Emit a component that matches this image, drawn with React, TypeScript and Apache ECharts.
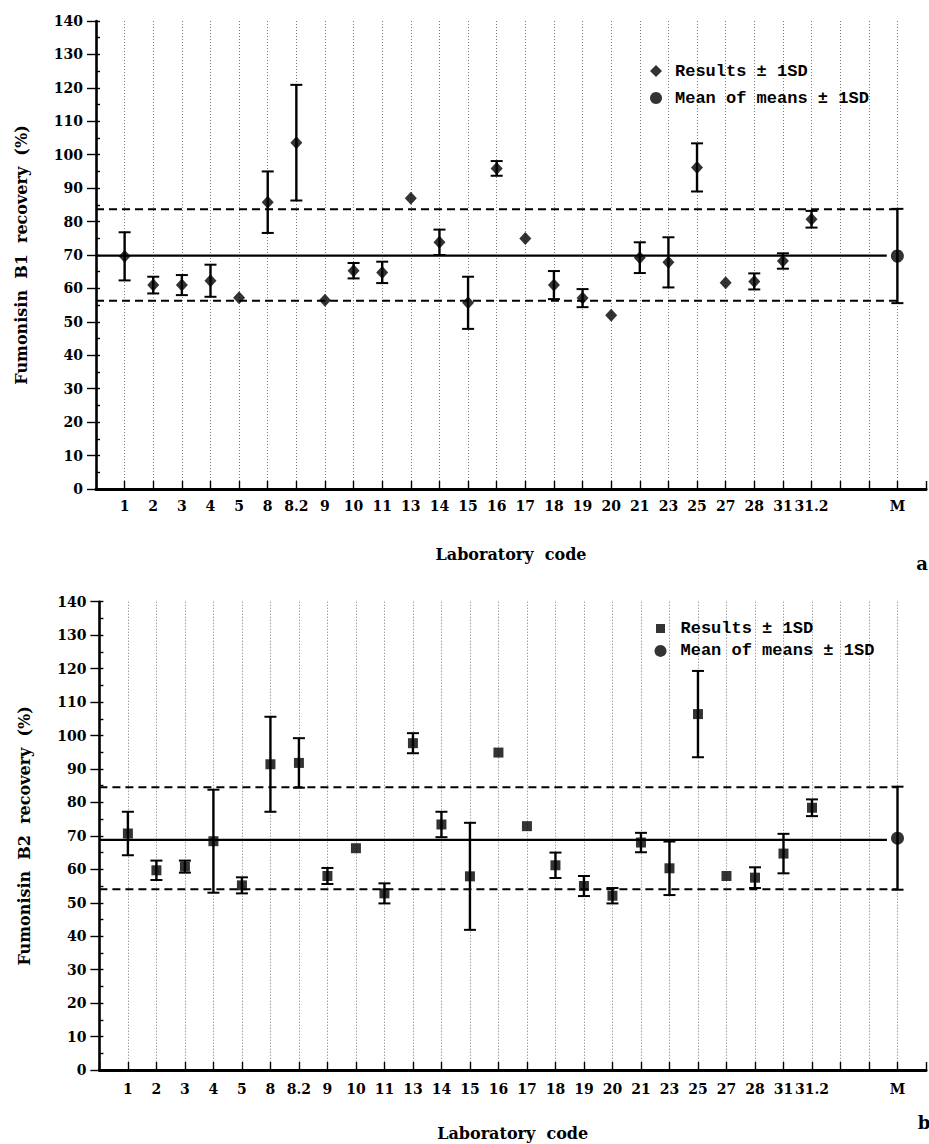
import React, { useEffect, useRef } from 'react';
import * as echarts from 'echarts';

// Laboratory codes (positions 1..28 on the x axis; two empty slots before M)
const labCodes = ['1', '2', '3', '4', '5', '8', '8.2', '9', '10', '11', '13', '14', '15', '16', '17', '18', '19', '20', '21', '23', '25', '27', '28', '31', '31.2', '', '', 'M'];
const yTicks = [0, 140, 10];

// Fumonisin B1 recovery (%) per laboratory, mean and SD
const b1Mean = [69.6, 61.0, 61.0, 62.3, 57.2, 85.8, 103.6, 56.5, 65.3, 64.8, 87.0, 73.8, 55.7, 95.9, 74.9, 61.0, 57.1, 52.0, 69.2, 67.8, 96.2, 61.7, 62.1, 68.2, 80.7];
const b1SD = [7.2, 2.5, 3.0, 4.8, 0, 9.2, 17.3, 0, 2.3, 3.2, 0, 3.8, 7.8, 2.2, 0, 4.2, 2.7, 0, 4.6, 7.5, 7.2, 0, 2.4, 2.3, 2.5];
const b1MeanOfMeans = [69.7];
const b1MeanOfMeansSD = [14.1];
const b1RefLines = [69.8, 83.7, 56.3]; // mean, +1SD, -1SD

// Fumonisin B2 recovery (%) per laboratory, mean and SD
const b2Mean = [70.7, 59.7, 60.8, 68.4, 55.2, 91.4, 91.8, 58.0, 66.3, 52.8, 97.7, 73.4, 57.9, 94.9, 72.9, 61.2, 55.0, 52.1, 68.0, 60.3, 106.4, 58.0, 57.5, 64.7, 78.4];
const b2SD = [6.5, 2.9, 1.8, 15.4, 2.4, 14.2, 7.4, 2.4, 0, 3.0, 3.0, 3.8, 16.0, 0, 0, 3.8, 3.0, 2.3, 2.9, 8.0, 12.9, 0, 3.1, 5.9, 2.5];
const b2MeanOfMeans = [69.3];
const b2MeanOfMeansSD = [15.4];
const b2RefLines = [68.8, 84.5, 54.0];

const RESULTS = 'Results ± 1SD';
const MEANS = 'Mean of means ± 1SD';
const SERIF = 'DejaVu Serif';
const MONO = 'Liberation Mono';
const M_POS = labCodes.length; // 28

function errorRows(means: number[], sds: number[], offset = 1) {
  const rows: number[][] = [];
  means.forEach((m, i) => {
    if (sds[i] > 0) rows.push([i + offset, m - sds[i], m + sds[i]]);
  });
  return rows;
}

const renderErrorBar = (params: any, api: any) => {
  const x = api.value(0);
  const lo = api.coord([x, api.value(1)]);
  const hi = api.coord([x, api.value(2)]);
  const hw = 6;
  const style = { stroke: '#000', lineWidth: 2.4 };
  return {
    type: 'group',
    children: [
      { type: 'line', shape: { x1: hi[0], y1: hi[1], x2: lo[0], y2: lo[1] }, style },
      { type: 'line', shape: { x1: hi[0] - hw, y1: hi[1], x2: hi[0] + hw, y2: hi[1] }, style: { stroke: '#000', lineWidth: 2 } },
      { type: 'line', shape: { x1: lo[0] - hw, y1: lo[1], x2: lo[0] + hw, y2: lo[1] }, style: { stroke: '#000', lineWidth: 2 } },
    ],
  };
};

function axesFor(gi: number, xLabelMargin: number, nameGapX: number, yName: string) {
  const xBottom = {
    type: 'value', gridIndex: gi, min: 0, max: labCodes.length + 1, interval: 1, position: 'bottom',
    name: 'Laboratory  code', nameLocation: 'middle', nameGap: nameGapX,
    nameTextStyle: { fontFamily: SERIF, fontWeight: 'bold', fontSize: 16, color: '#000' },
    axisLine: { show: true, lineStyle: { color: '#000', width: 2.8 } },
    axisTick: { show: true, inside: true, length: 8, lineStyle: { color: '#000', width: 1.4 } },
    axisLabel: {
      show: true, margin: xLabelMargin, color: '#000', fontFamily: SERIF, fontWeight: 'bold', fontSize: 14,
      formatter: (v: number) => (v >= 1 && v <= labCodes.length ? labCodes[v - 1] : ''),
    },
    splitLine: { show: true, showMinLine: false, showMaxLine: false, lineStyle: { color: '#7a7a7a', width: 1, type: [1, 2] } },
  };
  const xTop = {
    type: 'value', gridIndex: gi, min: 0, max: labCodes.length + 1, interval: 1, position: 'top',
    axisLine: { show: true, lineStyle: { color: '#000', width: 2.8 } },
    axisTick: { show: false }, axisLabel: { show: false }, splitLine: { show: false },
  };
  const yLeft = {
    type: 'value', gridIndex: gi, min: yTicks[0], max: yTicks[1], interval: yTicks[2], position: 'left',
    name: yName, nameLocation: 'middle', nameRotate: 90, nameGap: 67,
    nameTextStyle: { fontFamily: SERIF, fontWeight: 'bold', fontSize: 16, color: '#000' },
    axisLine: { show: true, lineStyle: { color: '#000', width: 2.6 } },
    axisTick: { show: true, inside: true, length: 4, lineStyle: { color: '#000', width: 1.4 } },
    minorTick: { show: true, splitNumber: 2, length: 4, lineStyle: { color: '#000', width: 1.4 } },
    axisLabel: { show: true, margin: 13, color: '#000', fontFamily: SERIF, fontWeight: 'bold', fontSize: 14 },
    splitLine: { show: false },
  };
  const yRight = {
    type: 'value', gridIndex: gi, min: yTicks[0], max: yTicks[1], interval: yTicks[2], position: 'right',
    axisLine: { show: false },
    axisTick: { show: true, inside: true, length: 9, lineStyle: { color: '#000', width: 1.4 } },
    minorTick: { show: false },
    axisLabel: { show: false }, splitLine: { show: false },
  };
  return { xs: [xBottom, xTop], ys: [yLeft, yRight] };
}

function seriesFor(
  axisBase: number, means: number[], sds: number[], mom: number[], momSD: number[], ref: number[],
  symbol: string, symbolSize: any,
) {
  const xi = axisBase * 2;
  const yi = axisBase * 2;
  const dashed = { color: '#000', width: 2, type: [8, 5] };
  return [
    {
      type: 'line', xAxisIndex: xi, yAxisIndex: yi, symbol: 'none', silent: true, z: 1,
      data: [[0, ref[0]], [M_POS - 0.37, ref[0]]], lineStyle: { color: '#000', width: 2.4 },
    },
    {
      type: 'line', xAxisIndex: xi, yAxisIndex: yi, symbol: 'none', silent: true, z: 1,
      data: [[0, ref[1]], [M_POS, ref[1]]], lineStyle: dashed,
    },
    {
      type: 'line', xAxisIndex: xi, yAxisIndex: yi, symbol: 'none', silent: true, z: 1,
      data: [[0, ref[2]], [M_POS, ref[2]]], lineStyle: dashed,
    },
    {
      type: 'custom', xAxisIndex: xi, yAxisIndex: yi, z: 2, renderItem: renderErrorBar,
      encode: { x: 0, y: [1, 2] },
      data: [...errorRows(means, sds), ...errorRows(mom, momSD, M_POS)],
    },
    {
      type: 'scatter', name: RESULTS, xAxisIndex: xi, yAxisIndex: yi, z: 3,
      symbol, symbolSize, itemStyle: { color: '#000' },
      data: means.map((m, i) => [i + 1, m]),
    },
    {
      type: 'scatter', name: MEANS, xAxisIndex: xi, yAxisIndex: yi, z: 3,
      symbol: 'circle', symbolSize: 13, itemStyle: { color: '#000' },
      data: mom.map((m, i) => [M_POS + i, m]),
    },
  ];
}

const SQUARE_ICON = 'path://M0,0M12,12M1.5,1.5L10.5,1.5L10.5,10.5L1.5,10.5Z';
const DIAMOND_ICON = 'path://M6,0L12,6L6,12L0,6Z';

export default function App() {
  const ref = useRef<HTMLDivElement>(null);
  useEffect(() => {
    if (!ref.current) return;
    const chart = echarts.init(ref.current, undefined, { renderer: 'svg' });
    const a1 = axesFor(0, 10, 57, 'Fumonisin  B1  recovery  (%)');
    const a2 = axesFor(1, 12, 55, 'Fumonisin  B2  recovery  (%)');
    const legendText = { fontFamily: MONO, fontWeight: 'bold', fontSize: 17, color: '#000' };
    chart.setOption({
      animation: false,
      backgroundColor: '#fff',
      grid: [
        { left: 96, top: 21, width: 836.4, height: 468 },
        { left: 99.4, top: 601.7, width: 837.2, height: 468.3 },
      ],
      xAxis: [...a1.xs, ...a2.xs],
      yAxis: [...a1.ys, ...a2.ys],
      legend: [
        {
          orient: 'vertical', left: 650, top: 62.5, padding: 0, itemGap: 10, itemWidth: 28, itemHeight: 12,
          selectedMode: false, textStyle: legendText,
          data: [{ name: RESULTS, icon: DIAMOND_ICON }, { name: MEANS, icon: 'circle' }],
        },
        {
          orient: 'vertical', left: 654.5, top: 620, padding: 0, itemGap: 5.4, itemWidth: 30, itemHeight: 12,
          selectedMode: false, textStyle: legendText,
          data: [{ name: RESULTS, icon: SQUARE_ICON }, { name: MEANS, icon: 'circle' }],
        },
      ],
      graphic: [
        { type: 'text', x: 922, y: 563, style: { text: 'a', fontFamily: SERIF, fontWeight: 'bold', fontSize: 18, fill: '#000', align: 'center', verticalAlign: 'middle' } },
        { type: 'text', x: 924, y: 1122, style: { text: 'b', fontFamily: SERIF, fontWeight: 'bold', fontSize: 18, fill: '#000', align: 'center', verticalAlign: 'middle' } },
      ],
      series: [
        ...seriesFor(0, b1Mean, b1SD, b1MeanOfMeans, b1MeanOfMeansSD, b1RefLines, 'diamond', [12, 13]),
        ...seriesFor(1, b2Mean, b2SD, b2MeanOfMeans, b2MeanOfMeansSD, b2RefLines, 'rect', 10),
      ],
    });
    return () => chart.dispose();
  }, []);
  return <div ref={ref} style={{ position: 'absolute', left: 0, top: 0, width: 929, height: 1144 }} />;
}
